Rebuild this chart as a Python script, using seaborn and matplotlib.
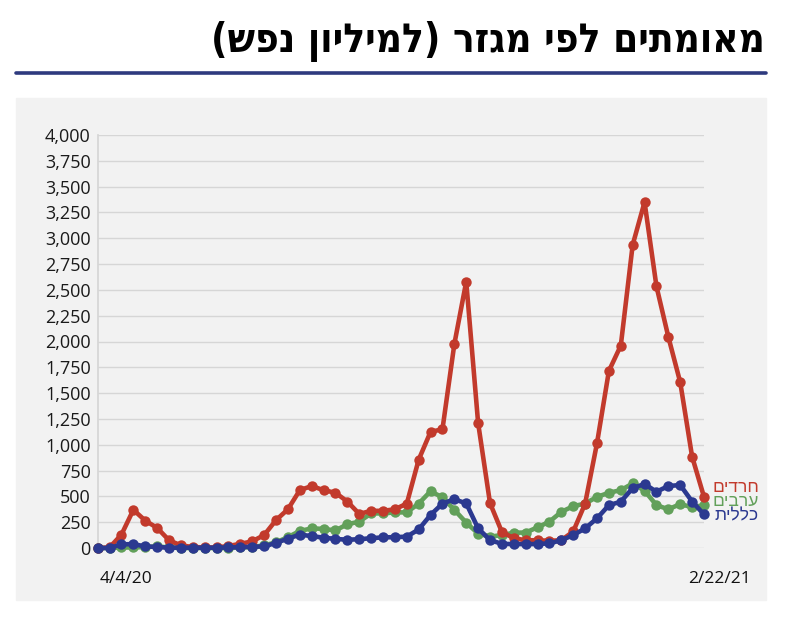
import numpy as np
import pandas as pd
import matplotlib
matplotlib.use('Agg')
import matplotlib.pyplot as plt
import seaborn as sns
from matplotlib.patches import Rectangle
from matplotlib.lines import Line2D

# ===== data (weekly, per million) =====
start_label = '4/4/20'
end_label = '2/22/21'

haredim = [0, 5, 130, 370, 265, 195, 75, 25, 10, 5,
           5, 20, 40, 65, 125, 270, 375, 560, 600, 560,
           535, 450, 330, 360, 360, 375, 430, 855, 1125, 1150,
           1975, 2580, 1210, 435, 155, 95, 75, 75, 70, 75,
           160, 430, 1015, 1715, 1960, 2935, 3350, 2535, 2045, 1605,
           885, 495]
arabs = [0, 0, 5, 5, 10, 15, 5, 0, 0, 0,
         0, 0, 5, 10, 25, 55, 105, 165, 190, 185,
         170, 230, 255, 335, 335, 345, 345, 430, 550, 490,
         370, 245, 140, 110, 125, 148, 150, 200, 255, 350,
         405, 430, 495, 535, 560, 625, 555, 415, 375, 425,
         395, 415]
general = [0, 0, 35, 38, 15, 10, 3, 3, 3, 3,
           3, 5, 8, 12, 15, 50, 90, 130, 115, 100,
           88, 80, 85, 95, 103, 105, 110, 180, 320, 430,
           472, 432, 190, 77, 40, 38, 38, 38, 45, 75,
           125, 190, 287, 415, 448, 580, 620, 545, 600, 610,
           450, 325]

series_names = ['חרדים', 'ערבים', 'כללית']
colors = {'חרדים': '#c23a2c', 'ערבים': '#62a05a', 'כללית': '#2b3990'}

weeks = np.arange(len(haredim))
df = pd.DataFrame({
    'week': np.tile(weeks, 3),
    'value': haredim + arabs + general,
    'sector': np.repeat(series_names, len(weeks)),
})


def rtl(s):
    # matplotlib has no bidi: flip the string and mirror brackets
    return s[::-1].translate(str.maketrans('()', ')('))


sns.set_theme(style='white')
plt.rcParams['font.family'] = ['Open Sans', 'DejaVu Sans']

fig = plt.figure(figsize=(8, 6.17), dpi=100)
fig.patch.set_facecolor('white')

# gray panel + header rule
fig.add_artist(Rectangle((16 / 800, 1 - 600 / 617), 750 / 800, 502 / 617,
                         transform=fig.transFigure, color='#f2f2f2', zorder=0))
fig.add_artist(Line2D([16 / 800, 766 / 800], [1 - 72.5 / 617] * 2,
                      transform=fig.transFigure, color='#2e3a7e', lw=2.6))
fig.text(765 / 800, 1 - 42 / 617, rtl('מאומתים לפי מגזר (למיליון נפש)'),
         ha='right', va='center', fontsize=29, fontweight='bold',
         fontstretch='condensed', family=['DejaVu Sans'], color='black')

ax = fig.add_axes([97.7 / 800, 1 - 548 / 617, (704 - 97.7) / 800, (548 - 135) / 617])
ax.set_facecolor('none')

sns.lineplot(data=df, x='week', y='value', hue='sector',
             hue_order=['ערבים', 'חרדים', 'כללית'], palette=colors,
             marker='o', markersize=7.5, markeredgewidth=0, linewidth=3.3,
             legend=False, ax=ax, clip_on=False, zorder=3)

ax.set_xlim(0, len(weeks) - 1)
ax.set_ylim(0, 4000)
ax.set_yticks(np.arange(0, 4001, 250))
ax.set_yticklabels([f'{v:,}' for v in range(0, 4001, 250)], fontsize=13, color='#1a1a1a')
ax.tick_params(axis='y', length=0, pad=5)
ax.set_xticks([])
ax.grid(axis='y', color='#d6d6d6', lw=1)
ax.set_xlabel('')
ax.set_ylabel('')
for side in ['top', 'right', 'bottom']:
    ax.spines[side].set_visible(False)
ax.spines['left'].set_color('#d6d6d6')

# x end labels
fig.text(100 / 800, 1 - 579 / 617, start_label, ha='left', va='center', fontsize=12.5, color='#111111')
fig.text(751 / 800, 1 - 579 / 617, end_label, ha='right', va='center', fontsize=12.5, color='#111111')

# series labels on the right
for name, ypix in zip(series_names, [487, 501, 516]):
    fig.text(759 / 800, 1 - ypix / 617, rtl(name), ha='right', va='center',
             fontsize=12.5, color=colors[name], family=['Liberation Sans', 'DejaVu Sans'])

fig.savefig('out.png', dpi=100, facecolor='white')
